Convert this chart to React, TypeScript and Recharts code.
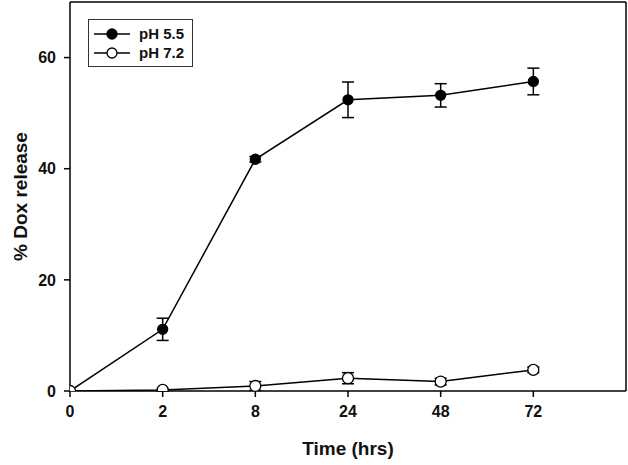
import {
  LineChart, Line, XAxis, YAxis, ErrorBar, ReferenceLine,
} from 'recharts'

// time points (hrs) – shown as evenly spaced categories
const times = ['0', '2', '8', '24', '48', '72']

// % Dox release, mean and error
const ph55    = [0, 11.1, 41.7, 52.4, 53.2, 55.7]
const ph55Err = [0, 2.0, 0.5, 3.2, 2.1, 2.4]
const ph72    = [0, 0.2, 0.9, 2.3, 1.7, 3.8]
const ph72Err = [0, 0.2, 0.8, 1.0, 0.6, 0.5]

const yTicks = [0, 20, 40, 60]

const FONT = '"Liberation Sans", Arial, sans-serif'

const rows = times.map((t, i) => ({
  idx: i,
  time: t,
  a: ph55[i], aErr: ph55Err[i],
  b: ph72[i], bErr: ph72Err[i],
}))

const LegendBox = () => (
  <div style={{
    position: 'absolute', left: 88, top: 19, width: 99,
    border: '1.5px solid #333', background: '#fff', padding: '4px 0 4px 4px',
    fontFamily: FONT, fontWeight: 700, fontSize: 15, color: '#111', lineHeight: '19px',
  }}>
    {[{ name: 'pH 5.5', fill: '#000' }, { name: 'pH 7.2', fill: '#fff' }].map(e => (
      <div key={e.name} style={{ display: 'flex', alignItems: 'center' }}>
        <svg width={38} height={14}>
          <line x1={1} y1={7} x2={37} y2={7} stroke="#000" strokeWidth={1.5} />
          <circle cx={19} cy={7} r={5} fill={e.fill} stroke="#000" strokeWidth={1.3} />
        </svg>
        <span style={{ marginLeft: 8 }}>{e.name}</span>
      </div>
    ))}
  </div>
)

export default function App() {
  const tick = { fontSize: 16, fontWeight: 700, fill: '#111', fontFamily: FONT }
  const labelStyle = { fontSize: 19, fontWeight: 700, fill: '#111', fontFamily: FONT }
  return (
    <div style={{ position: 'absolute', left: 0, top: 0, width: 628, height: 465, background: '#fff' }}>
      <LineChart width={628} height={465} data={rows}
        margin={{ top: 2, right: 2, bottom: 44, left: 30 }}>
        <XAxis dataKey="idx" type="number" domain={[0, 6]} ticks={[0, 1, 2, 3, 4, 5]}
          tickFormatter={(v) => times[v] ?? ''} tick={tick} tickSize={6} tickMargin={9}
          stroke="#000" strokeWidth={1.5} height={30} allowDataOverflow
          label={{ value: 'Time (hrs)', position: 'bottom', offset: 21, style: labelStyle }} />
        <YAxis domain={[0, 70]} ticks={yTicks} tick={tick} tickSize={6} tickMargin={8}
          stroke="#000" strokeWidth={1.5} width={40} allowDataOverflow
          label={{ value: '% Dox release', angle: -90, position: 'left', offset: 10,
            style: { ...labelStyle, textAnchor: 'middle' } }} />
        {/* top and right frame */}
        <ReferenceLine y={70} stroke="#000" strokeWidth={1.5} />
        <ReferenceLine x={6} stroke="#000" strokeWidth={1.5} />
        <Line dataKey="a" name="pH 5.5" type="linear" stroke="#000" strokeWidth={1.5}
          dot={{ r: 5, fill: '#000', stroke: '#000', strokeWidth: 1.3 }} isAnimationActive={false}>
          <ErrorBar dataKey="aErr" width={6} stroke="#000" strokeWidth={1.5} />
        </Line>
        <Line dataKey="b" name="pH 7.2" type="linear" stroke="#000" strokeWidth={1.5}
          dot={{ r: 5.5, fill: '#fff', stroke: '#000', strokeWidth: 1.3 }} isAnimationActive={false}>
          <ErrorBar dataKey="bErr" width={6} stroke="#000" strokeWidth={1.5} />
        </Line>
      </LineChart>
      <LegendBox />
    </div>
  )
}
